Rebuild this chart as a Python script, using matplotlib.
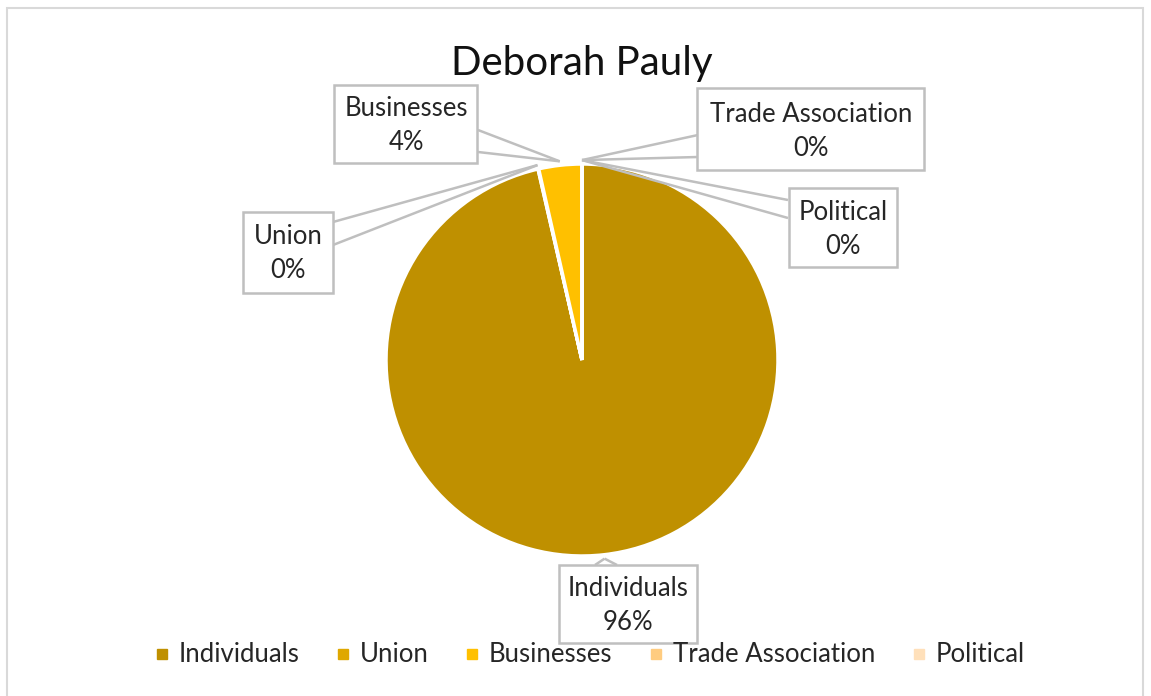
import numpy as np
import matplotlib.pyplot as plt
from matplotlib.patches import Rectangle
from matplotlib.lines import Line2D

plt.rcParams['font.family'] = ['Lato', 'DejaVu Sans']

# datos
categorias = ['Individuals', 'Union', 'Businesses', 'Trade Association', 'Political']
valores = [96.4, 0.05, 3.55, 0.0, 0.0]
etiquetas_pct = ['96%', '0%', '4%', '0%', '0%']
colores = ['#BF9000', '#DFA800', '#FFC000', '#FFCC80', '#FFE0BA']

W, H = 1151, 696
fig = plt.figure(figsize=(W / 100, H / 100), dpi=100)
ax = fig.add_axes([0, 0, 1, 1])

# pie in pixel space (y up)
cx, cy, r = 582, H - 360, 196
wedges, _ = ax.pie(valores, colors=colores, startangle=90, counterclock=False,
                   center=(cx, cy), radius=r,
                   wedgeprops=dict(edgecolor='white', linewidth=2.5))
ax.set_xlim(0, W)
ax.set_ylim(0, H)
ax.set_aspect('equal')
ax.axis('off')

# outer chart border
ax.add_patch(Rectangle((7.5, -10), 1136, H - 7.5 + 10, fill=False,
                       edgecolor='#D9D9D9', linewidth=1.5, zorder=0))

ax.text(cx, H - 63, 'Deborah Pauly', ha='center', va='center',
        fontsize=29, color='#111111')

# callout boxes: centre, size and pointer base (image pixel coords)
cajas = {
    'Individuals': ((628, 604), (138, 78), [(595, 565), (617, 565)]),
    'Union': ((288, 252), (90, 81), [(333, 222), (333, 245)]),
    'Businesses': ((406, 124), (143, 78), [(478, 130), (478, 152)]),
    'Trade Association': ((811, 129), (227, 82), [(698, 135), (698, 157)]),
    'Political': ((843, 227), (108, 79), [(788, 200), (788, 218)]),
}
gris = '#BFBFBF'

for w, nombre, pct in zip(wedges, categorias, etiquetas_pct):
    ang = np.deg2rad((w.theta1 + w.theta2) / 2)
    ax_pt = cx + r * 1.02 * np.cos(ang)
    ay_pt = cy + r * 1.02 * np.sin(ang)
    (bx, by), (bw, bh), base = cajas[nombre]
    by = H - by
    for px, py in base:
        ax.plot([ax_pt, px], [ay_pt, H - py], color=gris, lw=1.8, zorder=3,
                solid_capstyle='butt')
    ax.add_patch(Rectangle((bx - bw / 2, by - bh / 2), bw, bh,
                           facecolor='white', edgecolor=gris, lw=1.8, zorder=4))
    ax.text(bx, by - 2, nombre + '\n' + pct, ha='center', va='center',
            fontsize=18.5, color='#262626', linespacing=1.45, zorder=5)

# legend
handles = [Line2D([], [], marker='s', linestyle='', markersize=7,
                  markerfacecolor=c, markeredgecolor=c) for c in colores]
fig.legend(handles, categorias, loc='center', bbox_to_anchor=(590 / W, 1 - 655 / H),
           ncol=5, frameon=False, fontsize=18.5, handlelength=0.5,
           handletextpad=0.4, columnspacing=1.45, labelcolor='#262626')

fig.savefig('out.png', dpi=100)
